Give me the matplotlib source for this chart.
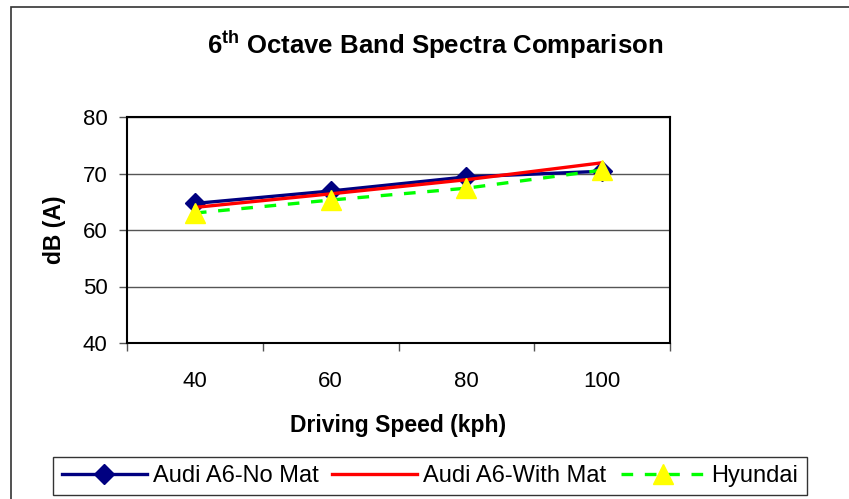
import matplotlib
matplotlib.use('Agg')
import matplotlib.pyplot as plt
from matplotlib.patches import Rectangle
from matplotlib.ticker import FixedLocator

plt.rcParams['font.family'] = ['Liberation Sans', 'DejaVu Sans']
plt.rcParams['mathtext.fontset'] = 'custom'
plt.rcParams['mathtext.rm'] = 'Liberation Sans'
plt.rcParams['mathtext.bf'] = 'Liberation Sans:bold'

speeds = ['40', '60', '80', '100']
audi_no_mat = [64.7, 66.9, 69.4, 70.4]
audi_with_mat = [64.0, 66.4, 68.9, 71.9]
hyundai = [63.0, 65.3, 67.4, 70.6]

W, H = 849, 499
fig = plt.figure(figsize=(W / 100, H / 100), dpi=100)

# outer chart frame (runs off the right and bottom edges)
fig.patches.append(Rectangle((11 / W, -0.5), 2.0, 1.5 - 7 / H,
                             transform=fig.transFigure, fill=False,
                             edgecolor='#333333', lw=1.2))

ax = fig.add_axes([127 / W, 1 - 343 / H, 543 / W, 226 / H])
x = list(range(len(speeds)))

ax.plot(x, audi_no_mat, color='#000080', lw=2.4, marker='D', markersize=10.5,
        label='Audi A6-No Mat', zorder=3)
ax.plot(x, audi_with_mat, color='#FF0000', lw=2.4,
        label='Audi A6-With Mat', zorder=4)
ax.plot(x, hyundai, color='#00FF00', lw=2.4, ls=(0, (3.5, 3.5)), marker='^',
        markersize=14, markerfacecolor='#FFFF00', markeredgecolor='#FFFF00',
        label='Hyundai', zorder=5)

ax.set_xlim(-0.5, len(speeds) - 0.5)
ax.set_ylim(40, 80)
ax.set_yticks([40, 50, 60, 70, 80])
ax.yaxis.grid(True, color='#555555', lw=1.0)
ax.set_axisbelow(True)

# category boundaries carry the tick marks, labels sit in between
ax.xaxis.set_major_locator(FixedLocator([i - 0.5 for i in range(len(speeds) + 1)]))
ax.xaxis.set_minor_locator(FixedLocator(x))
ax.set_xticklabels([])
ax.set_xticklabels(speeds, minor=True)
ax.tick_params(axis='x', which='major', direction='out', length=6, width=1, color='#555555')
ax.tick_params(axis='x', which='minor', length=0, pad=20, labelsize=16)
ax.tick_params(axis='y', direction='out', length=6, width=1, color='#555555',
               pad=8, labelsize=16)

for s in ax.spines.values():
    s.set_linewidth(1.5)
    s.set_color('black')

ax.set_xlabel('Driving Speed (kph)', fontsize=16.5, fontweight='bold')
ax.xaxis.set_label_coords(0.5, (343 - 414) / 226)
ax.set_ylabel('dB (A)', fontsize=16.5, fontweight='bold')
ax.yaxis.set_label_coords((66 - 127) / 543, 0.5)

fig.text(435 / W, 1 - 45 / H, r'$\mathbf{6^{th}}$ Octave Band Spectra Comparison',
         ha='center', va='center', fontsize=18.5, fontweight='bold')

leg = fig.legend(loc='center', bbox_to_anchor=(430 / W, 1 - 476 / H), ncol=3,
                 fontsize=17, handlelength=3.6, handletextpad=0.25,
                 columnspacing=0.6, frameon=True, fancybox=False,
                 borderpad=0.35)
leg.get_frame().set_edgecolor('black')
leg.get_frame().set_linewidth(1.0)

fig.savefig('out.png', dpi=100)
